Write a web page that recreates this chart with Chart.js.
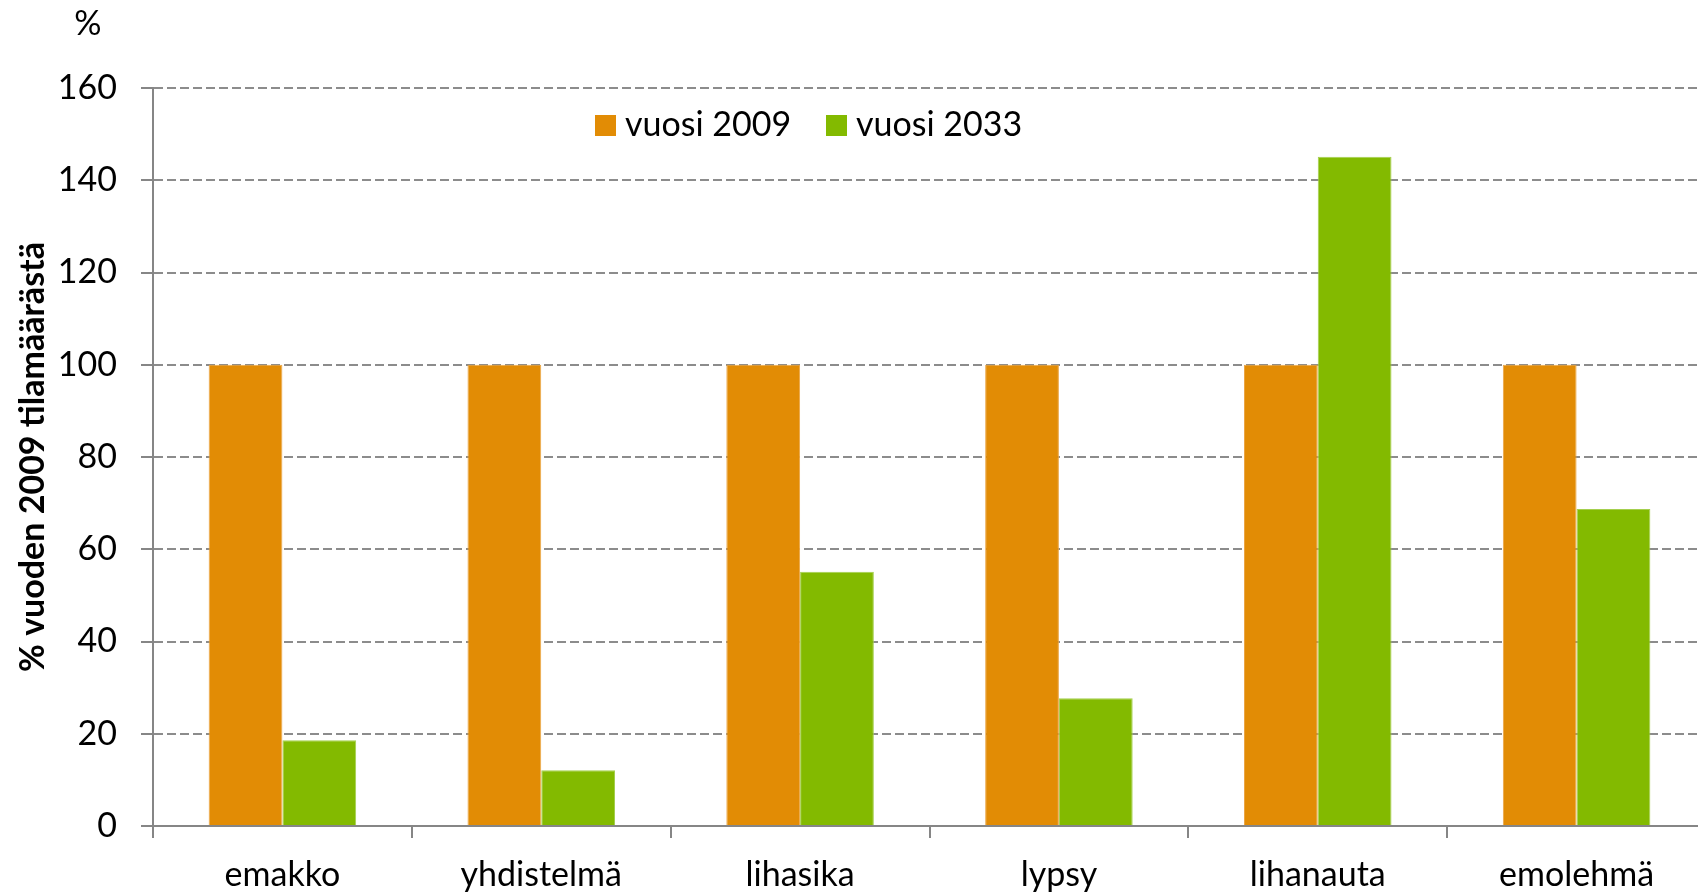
<!DOCTYPE html>
<html>
<head>
<meta charset="utf-8">
<script src="https://cdn.jsdelivr.net/npm/chart.js@4"></script>
<style>
  html, body { margin: 0; padding: 0; background: #fff; overflow: hidden; }
  #wrap { position: relative; width: 1712px; height: 892px; }
</style>
</head>
<body>
<div id="wrap"><canvas id="chart"></canvas></div>
<script>
const categories = ['emakko', 'yhdistelmä', 'lihasika', 'lypsy', 'lihanauta', 'emolehmä'];
const values2009 = [100, 100, 100, 100, 100, 100];
const values2033 = [18.6, 12.1, 55.1, 27.7, 145.1, 68.7];
const seriesLabels = ['vuosi 2009', 'vuosi 2033'];
const yTicks = [0, 20, 40, 60, 80, 100, 120, 140, 160];

const FONT = 'Lato, "Noto Sans", sans-serif';
const axisGray = '#868686';

// legend and the "%" unit label, drawn by hand to sit where the original has them
const extras = {
    id: 'extras',
    afterDraw(chart) {
        const ctx = chart.ctx;
        ctx.save();
        ctx.fillStyle = '#000';
        ctx.font = '34px ' + FONT;
        ctx.textBaseline = 'middle';
        ctx.textAlign = 'center';
        ctx.fillText('%', 88, 24);

        ctx.textAlign = 'left';
        const xs = [595, 826];
        chart.data.datasets.forEach((ds, i) => {
            ctx.fillStyle = ds.backgroundColor;
            ctx.fillRect(xs[i], 115, 21, 21);
            ctx.fillStyle = '#000';
            ctx.fillText(ds.label, xs[i] + 30, 125);
        });
        ctx.restore();
    }
};

new Chart(document.getElementById('chart'), {
    type: 'bar',
    data: {
        labels: categories,
        datasets: [{
            label: seriesLabels[0],
            data: values2009,
            backgroundColor: '#E28C05',
            borderColor: '#EBA646',
            borderWidth: 1,
            barPercentage: 1,
            categoryPercentage: 0.57
        }, {
            label: seriesLabels[1],
            data: values2033,
            backgroundColor: '#83BA00',
            borderColor: '#A4CF4E',
            borderWidth: 1,
            barPercentage: 1,
            categoryPercentage: 0.57
        }]
    },
    options: {
        responsive: true,
        maintainAspectRatio: false,
        animation: false,
        layout: { padding: { top: 88, right: 6, left: 0, bottom: 0 } },
        plugins: {
            legend: { display: false },
            tooltip: { enabled: false }
        },
        scales: {
            x: {
                afterFit: (scale) => { scale.height = 66; },
                grid: {
                    offset: true,
                    drawOnChartArea: false,
                    color: axisGray,
                    lineWidth: 2,
                    tickLength: 12,
                    tickBorderDash: []
                },
                border: { color: axisGray, width: 2 },
                ticks: {
                    color: '#000',
                    padding: 17,
                    font: { family: FONT, size: 34 }
                }
            },
            y: {
                min: 0,
                max: 160,
                afterFit: (scale) => { scale.width = 153; },
                afterBuildTicks: (scale) => { scale.ticks = yTicks.map(v => ({ value: v })); },
                grid: {
                    color: '#8C8C8C',
                    lineWidth: 2,
                    tickLength: 12,
                    tickBorderDash: [],
                    tickColor: axisGray
                },
                border: { color: axisGray, width: 2, dash: [9, 4] },
                ticks: {
                    color: '#000',
                    padding: 24,
                    font: { family: FONT, size: 34 }
                },
                title: {
                    display: true,
                    text: '% vuoden 2009 tilamäärästä',
                    color: '#000',
                    padding: { top: 13, bottom: 0 },
                    font: { family: FONT, size: 34, weight: 'bold' }
                }
            }
        }
    },
    plugins: [extras]
});
</script>
</body>
</html>
